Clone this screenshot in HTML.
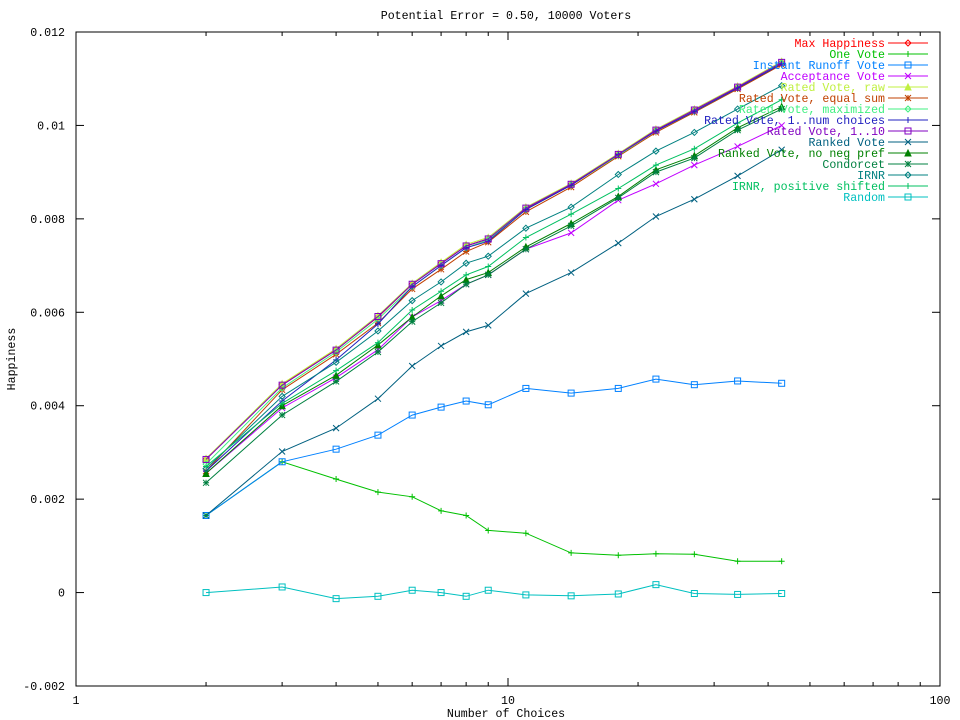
<!DOCTYPE html>
<html><head><meta charset="utf-8"><style>
html,body{margin:0;padding:0;background:#fff;}
svg{display:block;font-family:"Liberation Mono","DejaVu Sans Mono",monospace;font-size:11.6px;}
</style></head><body>
<svg id="chart" width="960" height="720" xmlns="http://www.w3.org/2000/svg">
<rect x="0" y="0" width="960" height="720" fill="#fff"/>
<text x="506" y="19" text-anchor="middle">Potential Error = 0.50, 10000 Voters</text>
<text x="506" y="717" text-anchor="middle">Number of Choices</text>
<text x="15" y="359" text-anchor="middle" transform="rotate(-90 15 359)">Happiness</text>
<g id="axes"></g><g id="series"></g><g id="legend"></g>
<rect x="76" y="32" width="864" height="654" fill="none" stroke="#000" stroke-width="1"/>
</svg>
<script>
const xValues=[2,3,4,5,6,7,8,9,11,14,18,22,27,34,43];
const yTicks=[0.012,0.01,0.008,0.006,0.004,0.002,0,-0.002];
const yTickLabels=["0.012","0.01","0.008","0.006","0.004","0.002","0","-0.002"];
const xTicks=[1,10,100];
const xTickLabels=["1","10","100"];
const seriesNames=["Max Happiness","One Vote","Instant Runoff Vote","Acceptance Vote","Rated Vote, raw","Rated Vote, equal sum","Rated Vote, maximized","Rated Vote, 1..num choices","Rated Vote, 1..10","Ranked Vote","Ranked Vote, no neg pref","Condorcet","IRNR","IRNR, positive shifted","Random"];
const maxHappiness=[2.85,4.45,5.2,5.9,6.6,7.05,7.42,7.57,8.22,8.74,9.38,9.9,10.33,10.82,11.35];
const oneVote=[1.65,2.8,2.43,2.15,2.05,1.75,1.65,1.33,1.27,0.85,0.8,0.83,0.82,0.67,0.67];
const irv=[1.65,2.8,3.07,3.37,3.8,3.97,4.1,4.02,4.37,4.27,4.37,4.57,4.45,4.53,4.48];
const acceptance=[2.55,3.95,4.6,5.2,5.9,6.25,6.6,6.8,7.35,7.7,8.4,8.75,9.15,9.55,10.0];
const ratedRaw=[2.87,4.47,5.22,5.93,6.62,7.07,7.45,7.6,8.25,8.76,9.4,9.92,10.35,10.84,11.37];
const ratedEqualSum=[2.6,4.34,5.1,5.77,6.5,6.92,7.3,7.5,8.15,8.68,9.34,9.85,10.28,10.78,11.3];
const ratedMaximized=[2.75,4.38,5.15,5.85,6.55,7.0,7.38,7.55,8.2,8.72,9.36,9.88,10.3,10.8,11.33];
const ratedNum=[2.6,4.1,4.98,5.75,6.55,7.0,7.38,7.52,8.2,8.72,9.38,9.88,10.3,10.8,11.32];
const rated10=[2.85,4.44,5.19,5.91,6.6,7.04,7.42,7.57,8.23,8.74,9.38,9.9,10.33,10.82,11.35];
const ranked=[1.65,3.02,3.52,4.15,4.85,5.28,5.58,5.72,6.4,6.85,7.48,8.05,8.42,8.92,9.48];
const rankedNoNeg=[2.55,4.0,4.65,5.3,5.9,6.35,6.7,6.85,7.4,7.9,8.48,9.05,9.35,9.95,10.4];
const condorcet=[2.35,3.8,4.52,5.15,5.8,6.2,6.6,6.8,7.35,7.85,8.45,9.0,9.3,9.9,10.35];
const irnr=[2.65,4.2,4.93,5.6,6.25,6.65,7.05,7.2,7.8,8.25,8.95,9.45,9.85,10.35,10.85];
const irnrShifted=[2.7,4.05,4.75,5.35,6.05,6.45,6.8,6.98,7.6,8.1,8.65,9.15,9.5,10.05,10.55];
const random=[0,0.12,-0.13,-0.08,0.05,0,-0.08,0.05,-0.05,-0.07,-0.03,0.17,-0.02,-0.04,-0.02];
const seriesData=[maxHappiness,oneVote,irv,acceptance,ratedRaw,ratedEqualSum,ratedMaximized,ratedNum,rated10,ranked,rankedNoNeg,condorcet,irnr,irnrShifted,random];
const colors=["#ff0000","#00c000","#0080ff","#c000ff","#c0f040","#c04000","#40f080","#2020c0","#8000c0","#006080","#008000","#008040","#008080","#00c060","#00c0c0"];
const marks=["diamond","plus","square","x","triangle","star"];
const NS="http://www.w3.org/2000/svg";
const L=76,R=940,T=32,B=686;
function xs(v){return L+(R-L)*Math.log10(v)/2;}
function ys(v){return B-(v+0.002)/0.014*(B-T);}
function el(tag,attrs,parent){const e=document.createElementNS(NS,tag);for(const k in attrs)e.setAttribute(k,attrs[k]);parent.appendChild(e);return e;}
const axes=document.getElementById('axes');
yTicks.forEach((t,i)=>{const y=ys(t);
 const l1=el('line',{x1:L,x2:L+8,y1:y,y2:y,stroke:'#000'},axes);
 
 const l2=el('line',{x1:R-8,x2:R,y1:y,y2:y,stroke:'#000'},axes);
 
 const tx=el('text',{x:L-11,y:y+4,'text-anchor':'end'},axes);tx.textContent=yTickLabels[i];
 
});
for(let d=1;d<100;d*=10){for(let m=1;m<10;m++){const v=d*m;const x=xs(v);const len=m===1?8:4;
 const a=el('line',{x1:x,x2:x,y1:B,y2:B-len,stroke:'#000'},axes);
 
 const b=el('line',{x1:x,x2:x,y1:T,y2:T+len,stroke:'#000'},axes);
 }}
xTicks.forEach((t,i)=>{const tx=el('text',{x:xs(t),y:B+18,'text-anchor':'middle'},axes);tx.textContent=xTickLabels[i];
 });
function mark(g,type,x,y,c){const s=3;
 if(type==='diamond')el('path',{d:`M${x-s} ${y}L${x} ${y-s}L${x+s} ${y}L${x} ${y+s}Z`,fill:'none',stroke:c},g);
 else if(type==='plus')el('path',{d:`M${x-s} ${y}H${x+s}M${x} ${y-s}V${y+s}`,stroke:c,fill:'none'},g);
 else if(type==='square')el('rect',{x:x-s,y:y-s,width:2*s,height:2*s,fill:'none',stroke:c},g);
 else if(type==='x')el('path',{d:`M${x-s} ${y-s}L${x+s} ${y+s}M${x-s} ${y+s}L${x+s} ${y-s}`,stroke:c,fill:'none'},g);
 else if(type==='triangle')el('path',{d:`M${x-s} ${y+s}L${x} ${y-s}L${x+s} ${y+s}Z`,fill:c,stroke:c},g);
 else el('path',{d:`M${x-s} ${y}H${x+s}M${x} ${y-s}V${y+s}M${x-s} ${y-s}L${x+s} ${y+s}M${x-s} ${y+s}L${x+s} ${y-s}`,stroke:c,fill:'none'},g);}
const sg=document.getElementById('series'),lg=document.getElementById('legend');
seriesData.forEach((data,i)=>{const c=colors[i],mt=marks[i%6];
 const g=el('g',{},sg);
 
 const pts=data.map((v,j)=>xs(xValues[j]).toFixed(1)+','+ys(v/1000).toFixed(1)).join(' ');
 const pl=el('polyline',{points:pts,fill:'none',stroke:c,'stroke-width':1},g);
 
 data.forEach((v,j)=>mark(g,mt,xs(xValues[j]),ys(v/1000),c));
 const ly=43+i*11;
 const le=el('g',{},lg);
 
 const tx=el('text',{x:885,y:ly+4,'text-anchor':'end',fill:c},le);tx.textContent=seriesNames[i];
 el('line',{x1:888,x2:928,y1:ly,y2:ly,stroke:c},le);
 mark(le,mt,908,ly,c);
});
</script>
</body></html>
